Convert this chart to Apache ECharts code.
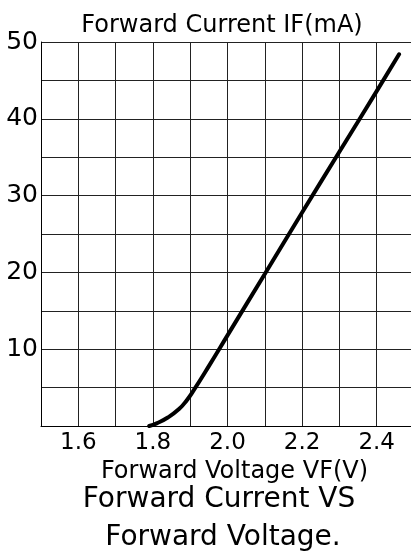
<!DOCTYPE html>
<html>
<head>
<meta charset="utf-8">
<script src="https://cdn.jsdelivr.net/npm/echarts@6/dist/echarts.min.js"></script>
<style>
html,body{margin:0;padding:0;background:#fff;}
#chart{width:411px;height:555px;}
</style>
</head>
<body>
<div id="chart"></div>
<script>
// Forward voltage VF (V)
var voltage = [1.79, 1.81, 1.84, 1.87, 1.89, 1.91, 1.95, 2.00, 2.10, 2.20, 2.30, 2.40, 2.46];
// Forward current IF (mA)
var current = [0, 0.35, 1.1, 2.2, 3.3, 4.7, 7.8, 11.8, 19.8, 27.8, 35.7, 43.6, 48.4];
var xTickLabels = ['1.6', '1.8', '2.0', '2.2', '2.4'];
var yTickLabels = ['10', '20', '30', '40', '50'];

var FONT = 'DejaVu Sans';
var chart = echarts.init(document.getElementById('chart'), null, {renderer: 'canvas'});
var pts = voltage.map(function (v, i) { return [v, current[i]]; });

chart.setOption({
  backgroundColor: '#ffffff',
  animation: false,
  title: [
    {text: 'Forward Current IF(mA)', left: 217, top: 9, textAlign: 'center',
     textStyle: {fontFamily: FONT, fontSize: 24, fontWeight: 'normal', color: '#000'}},
    {text: 'Forward Current VS', left: 214, top: 481, textAlign: 'center',
     textStyle: {fontFamily: FONT, fontSize: 28, fontWeight: 'normal', color: '#000'}},
    {text: 'Forward Voltage.', left: 218, top: 519, textAlign: 'center',
     textStyle: {fontFamily: FONT, fontSize: 28, fontWeight: 'normal', color: '#000'}}
  ],
  grid: {left: 41, top: 42, width: 373, height: 384, containLabel: false, outerBoundsMode: 'none'},
  xAxis: {
    type: 'value', min: 1.5, max: 2.5, interval: 0.1,
    name: 'Forward Voltage VF(V)', nameLocation: 'middle', nameGap: 30,
    nameTextStyle: {fontFamily: FONT, fontSize: 24, color: '#000', padding: [0, 0, 0, 14]},
    axisLine: {show: true, lineStyle: {color: '#000', width: 1}},
    axisTick: {show: false},
    splitLine: {show: true, lineStyle: {color: '#222', width: 1}},
    axisLabel: {
      fontFamily: FONT, fontSize: 23, color: '#000', margin: 6,
      formatter: function (v) {
        var s = v.toFixed(1);
        return xTickLabels.indexOf(s) >= 0 ? s : '';
      }
    }
  },
  yAxis: {
    type: 'value', min: 0, max: 50, interval: 5,
    axisLine: {show: true, lineStyle: {color: '#000', width: 1}},
    axisTick: {show: false},
    splitLine: {show: true, lineStyle: {color: '#222', width: 1}},
    axisLabel: {
      fontFamily: FONT, fontSize: 25, color: '#000', margin: 3,
      formatter: function (v) {
        var s = String(Math.round(v));
        return yTickLabels.indexOf(s) >= 0 ? s : '';
      }
    }
  },
  series: [{
    type: 'line', data: pts, smooth: 0.5, showSymbol: false,
    lineStyle: {color: '#000', width: 4, cap: 'round'}
  }]
});
</script>
</body>
</html>
